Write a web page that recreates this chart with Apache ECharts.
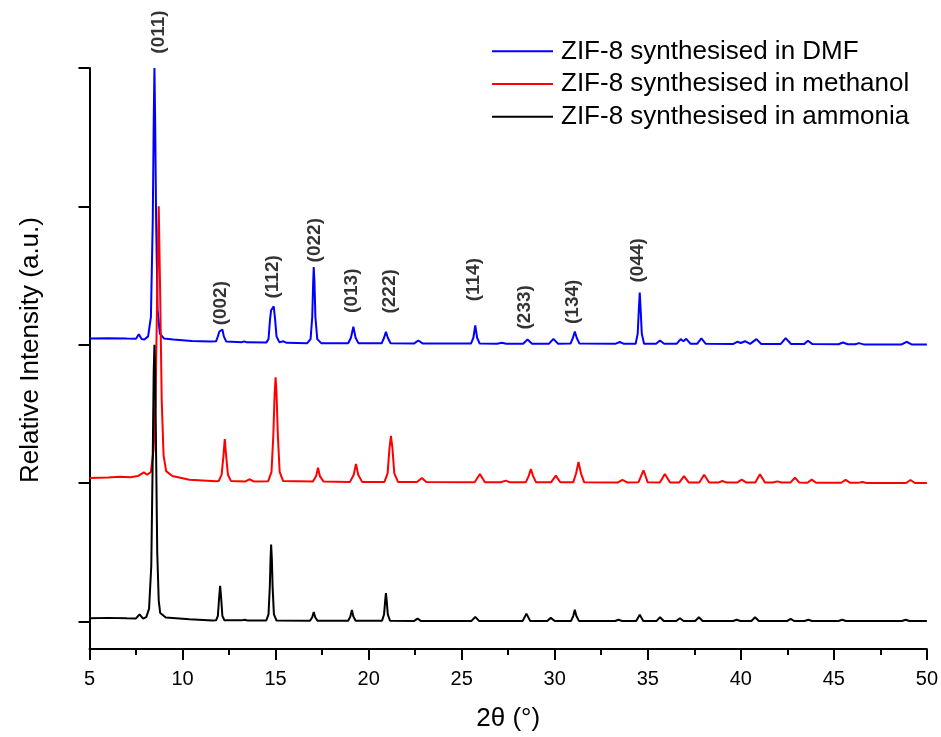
<!DOCTYPE html>
<html>
<head>
<meta charset="utf-8">
<title>ZIF-8 XRD patterns</title>
<script src="https://cdn.jsdelivr.net/npm/echarts@6/dist/echarts.min.js"></script>
<style>
  html, body { margin: 0; padding: 0; background: #ffffff; }
  #chart { width: 941px; height: 737px; }
</style>
</head>
<body>
<div id="chart"></div>
<script>
// Powder XRD patterns of ZIF-8, [2θ (°), relative intensity], stacked with vertical offsets.
const seriesNames = [
  'ZIF-8 synthesised in DMF',
  'ZIF-8 synthesised in methanol',
  'ZIF-8 synthesised in ammonia'
];

const dmfPattern = [
  [5.0,2.045],[6.0,2.047],[7.0,2.044],[7.5,2.043],[7.65,2.076],[7.8,2.041],[7.95,2.038],
  [8.15,2.06],[8.3,2.2],[8.4,2.9],[8.45,3.6],[8.49,4.0],[8.53,3.6],[8.58,2.9],[8.66,2.25],
  [8.78,2.08],[9.0,2.045],[9.5,2.037],[10.5,2.027],[11.5,2.022],
  [11.8,2.024],[11.9,2.06],[11.98,2.095],[12.04,2.085],[12.14,2.109],[12.22,2.06],[12.35,2.022],
  [13.2,2.018],[13.32,2.024],[13.45,2.017],
  [14.5,2.015],[14.62,2.04],[14.7,2.18],[14.76,2.249],[14.82,2.235],[14.9,2.277],[14.97,2.19],
  [15.05,2.06],[15.2,2.018],[15.42,2.024],[15.6,2.013],
  [16.7,2.011],[16.88,2.04],[16.97,2.2],[17.02,2.45],[17.05,2.561],[17.09,2.45],[17.14,2.2],
  [17.24,2.04],[17.45,2.011],
  [18.9,2.01],[19.05,2.05],[19.18,2.129],[19.3,2.05],[19.45,2.011],
  [20.7,2.01],[20.83,2.05],[20.93,2.093],[21.03,2.05],[21.18,2.01],
  [22.45,2.009],[22.67,2.03],[22.9,2.009],
  [25.5,2.008],[25.63,2.05],[25.73,2.14],[25.83,2.05],[25.97,2.008],
  [26.9,2.007],[27.16,2.014],[27.4,2.007],
  [28.3,2.007],[28.54,2.037],[28.78,2.007],
  [29.7,2.007],[29.93,2.042],[30.18,2.007],
  [30.85,2.008],[30.98,2.05],[31.08,2.095],[31.18,2.05],[31.33,2.008],
  [33.25,2.006],[33.5,2.019],[33.72,2.006],
  [34.35,2.007],[34.46,2.08],[34.52,2.25],[34.57,2.376],[34.62,2.25],[34.68,2.08],[34.8,2.007],
  [35.45,2.006],[35.66,2.03],[35.88,2.006],
  [36.55,2.006],[36.77,2.04],[36.92,2.025],[37.07,2.042],[37.3,2.006],
  [37.65,2.006],[37.88,2.045],[38.12,2.006],
  [39.6,2.005],[39.81,2.021],[40.0,2.012],[40.23,2.025],[40.5,2.006],[40.84,2.04],[41.1,2.005],
  [42.15,2.005],[42.41,2.047],[42.7,2.005],
  [43.4,2.004],[43.61,2.028],[43.85,2.004],
  [45.25,2.003],[45.49,2.016],[45.75,2.003],
  [46.15,2.003],[46.35,2.011],[46.6,2.002],
  [48.65,2.002],[48.91,2.021],[49.2,2.001],[50.0,2.001]
];

const methanolPattern = [
  [5.0,1.036],[6.0,1.040],[6.61,1.045],[7.2,1.042],[7.6,1.05],[7.92,1.077],[8.1,1.06],
  [8.3,1.08],[8.45,1.25],[8.55,1.6],[8.63,2.3],[8.72,3.0],[8.8,2.35],[8.88,1.6],[8.98,1.2],
  [9.12,1.086],[9.45,1.05],[10.37,1.024],[11.8,1.012],
  [11.95,1.015],[12.1,1.06],[12.2,1.2],[12.27,1.317],[12.34,1.2],[12.44,1.06],[12.6,1.015],
  [13.35,1.01],[13.59,1.027],[13.85,1.01],
  [14.6,1.012],[14.78,1.08],[14.88,1.35],[14.95,1.65],[15.0,1.764],[15.05,1.65],[15.12,1.35],
  [15.22,1.08],[15.4,1.015],
  [17.0,1.01],[17.18,1.05],[17.28,1.11],[17.38,1.05],[17.58,1.01],
  [19.0,1.008],[19.2,1.06],[19.32,1.137],[19.44,1.06],[19.65,1.008],
  [20.85,1.008],[21.02,1.07],[21.12,1.25],[21.2,1.341],[21.28,1.25],[21.38,1.07],[21.58,1.008],
  [22.6,1.007],[22.86,1.036],[23.1,1.007],
  [25.7,1.006],[25.98,1.065],[26.25,1.006],
  [27.1,1.005],[27.37,1.017],[27.6,1.005],
  [28.45,1.006],[28.6,1.05],[28.72,1.101],[28.84,1.05],[29.0,1.005],
  [29.8,1.005],[30.06,1.053],[30.3,1.005],
  [31.0,1.006],[31.15,1.07],[31.28,1.153],[31.41,1.07],[31.58,1.006],
  [33.4,1.004],[33.64,1.022],[33.9,1.004],
  [34.5,1.005],[34.77,1.092],[35.0,1.005],
  [35.65,1.004],[35.92,1.065],[36.2,1.004],
  [36.7,1.004],[36.95,1.05],[37.2,1.004],
  [37.77,1.004],[38.03,1.06],[38.3,1.004],
  [38.78,1.003],[39.01,1.014],[39.25,1.003],
  [39.8,1.003],[40.05,1.024],[40.3,1.003],
  [40.78,1.004],[41.03,1.063],[41.3,1.003],
  [41.73,1.003],[41.96,1.012],[42.2,1.003],
  [42.66,1.003],[42.91,1.038],[43.15,1.003],
  [43.58,1.002],[43.81,1.024],[44.05,1.002],
  [45.4,1.002],[45.63,1.022],[45.87,1.002],
  [46.3,1.001],[46.53,1.007],[46.77,1.0],
  [48.88,1.0],[49.12,1.022],[49.36,1.0],[50.0,1.0]
];

const ammoniaPattern = [
  [5.0,0.022],[6.0,0.025],[7.0,0.022],[7.5,0.021],[7.69,0.051],[7.88,0.02],[8.05,0.03],
  [8.2,0.09],[8.32,0.4],[8.4,1.2],[8.45,1.8],[8.49,2.0],[8.53,1.8],[8.58,1.2],[8.64,0.5],
  [8.72,0.15],[8.8,0.06],[9.1,0.027],[10.37,0.015],[11.6,0.006],
  [11.8,0.007],[11.9,0.04],[11.96,0.16],[12.02,0.256],[12.08,0.16],[12.14,0.04],[12.25,0.008],
  [13.15,0.007],[13.32,0.011],[13.5,0.006],
  [14.5,0.006],[14.62,0.05],[14.69,0.25],[14.73,0.45],[14.76,0.555],[14.8,0.45],[14.84,0.25],
  [14.91,0.05],[15.05,0.006],
  [16.85,0.004],[16.97,0.03],[17.05,0.068],[17.13,0.03],[17.25,0.004],
  [18.9,0.004],[19.02,0.035],[19.1,0.083],[19.18,0.035],[19.3,0.004],
  [20.72,0.004],[20.83,0.05],[20.89,0.15],[20.93,0.205],[20.97,0.15],[21.03,0.05],[21.15,0.004],
  [22.45,0.003],[22.63,0.02],[22.8,0.003],
  [25.53,0.003],[25.73,0.032],[25.93,0.003],
  [28.28,0.003],[28.48,0.056],[28.68,0.003],
  [29.6,0.003],[29.79,0.025],[30.0,0.003],
  [30.88,0.003],[31.0,0.04],[31.08,0.083],[31.16,0.04],[31.3,0.003],
  [33.25,0.002],[33.43,0.011],[33.62,0.002],
  [34.38,0.002],[34.57,0.047],[34.76,0.002],
  [35.47,0.002],[35.66,0.03],[35.86,0.002],
  [36.53,0.002],[36.73,0.022],[36.93,0.002],
  [37.55,0.002],[37.75,0.03],[37.95,0.002],
  [39.58,0.002],[39.78,0.011],[39.98,0.002],
  [40.57,0.002],[40.77,0.03],[40.97,0.002],
  [42.48,0.002],[42.68,0.018],[42.88,0.002],
  [43.43,0.002],[43.63,0.011],[43.83,0.002],
  [45.25,0.002],[45.45,0.011],[45.65,0.002],
  [48.66,0.002],[48.86,0.011],[49.06,0.002],[50.0,0.002]
];

// Miller indices of the indexed reflections, with the 2θ / intensity spot where each tag sits
const hklLabels = ['(011)','(002)','(112)','(022)','(013)','(222)','(114)','(233)','(134)','(044)'];
const hklAngle  = [8.71, 12.07, 14.83, 17.10, 19.11, 21.11, 25.66, 28.41, 30.99, 34.48];
const hklLevel  = [4.26, 2.30, 2.49, 2.755, 2.39, 2.385, 2.47, 2.27, 2.31, 2.61];

// Offset baselines of the three stacked traces carry the y-axis ticks
const yTickValues = [0, 1, 2, 3, 4];

const FONT = "'Liberation Sans', Arial, Helvetica, sans-serif";
const colors = ['#0000ff', '#ff0000', '#000000'];
const patterns = [dmfPattern, methanolPattern, ammoniaPattern];

const lineSeries = patterns.map((data, i) => ({
  name: seriesNames[i],
  type: 'line',
  data: data,
  symbol: 'none',
  showSymbol: false,
  smooth: false,
  z: 2 + i,
  lineStyle: { color: colors[i], width: 2 },
  itemStyle: { color: colors[i] },
  emphasis: { disabled: true }
}));

const hklSeries = {
  type: 'scatter',
  data: hklLabels.map((t, i) => [hklAngle[i], hklLevel[i], t]),
  symbolSize: 0,
  clip: false,
  silent: true,
  z: 10,
  label: {
    show: true,
    position: 'inside',
    rotate: 90,
    formatter: p => p.data[2],
    color: '#000',
    fontFamily: FONT,
    fontWeight: 'bold',
    fontSize: 19
  }
};

const chart = echarts.init(document.getElementById('chart'), null, { renderer: 'canvas' });
chart.setOption({
  animation: false,
  backgroundColor: '#ffffff',
  textStyle: { fontFamily: FONT, color: '#000' },
  grid: { left: 89.5, right: 13, top: 68, bottom: 86, containLabel: false },
  legend: {
    data: seriesNames,
    orient: 'vertical',
    left: 487,
    top: 30,
    padding: 5,
    itemWidth: 61,
    itemHeight: 14,
    itemGap: 0,
    icon: 'path://M0,0 L61,0 L61,2 L0,2 Z',
    textStyle: { fontSize: 26, fontFamily: FONT, color: '#000', lineHeight: 32.7, padding: [0, 0, 0, 3] },
    selectedMode: false
  },
  xAxis: {
    type: 'value',
    min: 5,
    max: 50,
    interval: 5,
    name: '2θ (°)',
    nameLocation: 'middle',
    nameGap: 57,
    nameTextStyle: { fontSize: 26, fontFamily: FONT, color: '#000' },
    axisLine: { show: true, onZero: false, lineStyle: { color: '#000', width: 2 } },
    axisTick: { show: true, length: 11, lineStyle: { color: '#000', width: 2 } },
    minorTick: { show: true, splitNumber: 2, length: 6, lineStyle: { color: '#000', width: 2 } },
    axisLabel: { fontSize: 20, fontFamily: FONT, color: '#000', margin: 20 },
    splitLine: { show: false }
  },
  yAxis: {
    type: 'value',
    min: -0.2,
    max: 4,
    axisLine: { show: true, onZero: false, lineStyle: { color: '#000', width: 2 } },
    axisTick: { show: true, length: 11, customValues: yTickValues, lineStyle: { color: '#000', width: 2 } },
    axisLabel: { show: false },
    splitLine: { show: false }
  },
  graphic: [{
    type: 'text',
    x: 31,
    y: 350,
    rotation: Math.PI / 2,
    style: {
      text: 'Relative Intensity (a.u.)',
      fontSize: 26,
      fontFamily: FONT,
      fill: '#000',
      align: 'center',
      verticalAlign: 'middle'
    }
  }],
  series: [...lineSeries, hklSeries]
});
</script>
</body>
</html>
